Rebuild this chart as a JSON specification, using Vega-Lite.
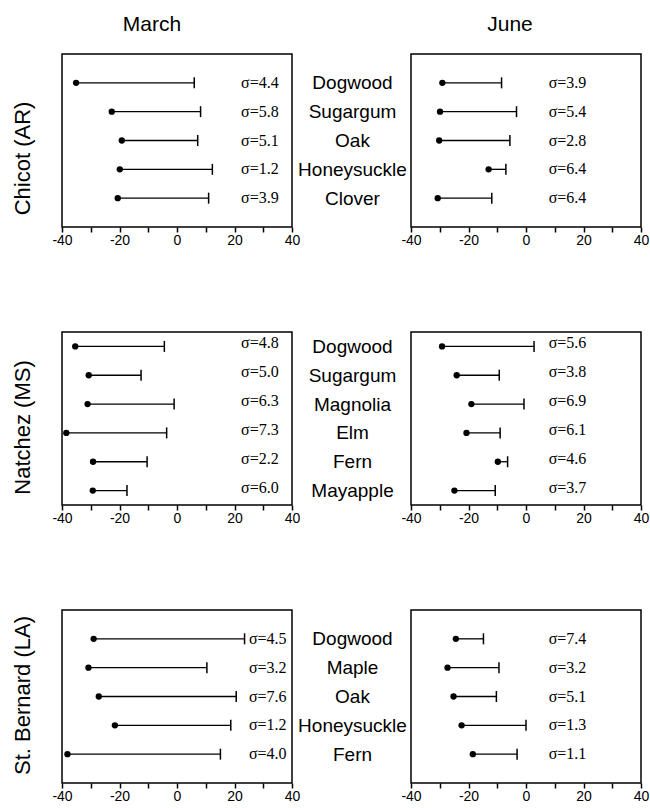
{
  "$schema": "https://vega.github.io/schema/vega-lite/v6.json",
  "background": "white",
  "padding": {"left": 10, "top": 13, "right": 5, "bottom": 2},
  "bounds": "flush",
  "columns": 2,
  "spacing": {"row": 105, "column": 119},
  "config": {
    "view": {"stroke": "black", "strokeWidth": 1.5},
    "font": "Liberation Sans",
    "title": {"font": "Liberation Sans", "fontSize": 21, "fontWeight": "normal", "color": "black"},
    "axisX": {"grid": false, "domain": false, "tickSize": 5, "tickWidth": 1.5, "tickColor": "black", "labelFont": "Liberation Sans", "labelFontSize": 14, "labelColor": "black", "labelPadding": 1, "labelFlush": false, "labelOverlap": false, "labelBound": false}
  },
  "datasets": {
    "d": [
      {"site": "Chicot (AR)", "month": "March", "species": "Dogwood", "mean": -35.1, "upper": 6.0, "sigma": "σ=4.4"},
      {"site": "Chicot (AR)", "month": "March", "species": "Sugargum", "mean": -22.7, "upper": 8.2, "sigma": "σ=5.8"},
      {"site": "Chicot (AR)", "month": "March", "species": "Oak", "mean": -19.2, "upper": 7.2, "sigma": "σ=5.1"},
      {"site": "Chicot (AR)", "month": "March", "species": "Honeysuckle", "mean": -19.9, "upper": 12.3, "sigma": "σ=1.2"},
      {"site": "Chicot (AR)", "month": "March", "species": "Clover", "mean": -20.6, "upper": 11.0, "sigma": "σ=3.9"},
      {"site": "Chicot (AR)", "month": "June", "species": "Dogwood", "mean": -29.1, "upper": -8.5, "sigma": "σ=3.9"},
      {"site": "Chicot (AR)", "month": "June", "species": "Sugargum", "mean": -29.9, "upper": -3.3, "sigma": "σ=5.4"},
      {"site": "Chicot (AR)", "month": "June", "species": "Oak", "mean": -30.2, "upper": -5.6, "sigma": "σ=2.8"},
      {"site": "Chicot (AR)", "month": "June", "species": "Honeysuckle", "mean": -13.0, "upper": -7.0, "sigma": "σ=6.4"},
      {"site": "Chicot (AR)", "month": "June", "species": "Clover", "mean": -30.7, "upper": -11.9, "sigma": "σ=6.4"},
      {"site": "Natchez (MS)", "month": "March", "species": "Dogwood", "mean": -35.4, "upper": -4.4, "sigma": "σ=4.8"},
      {"site": "Natchez (MS)", "month": "March", "species": "Sugargum", "mean": -30.7, "upper": -12.5, "sigma": "σ=5.0"},
      {"site": "Natchez (MS)", "month": "March", "species": "Magnolia", "mean": -31.1, "upper": -1.0, "sigma": "σ=6.3"},
      {"site": "Natchez (MS)", "month": "March", "species": "Elm", "mean": -38.5, "upper": -3.6, "sigma": "σ=7.3"},
      {"site": "Natchez (MS)", "month": "March", "species": "Fern", "mean": -29.2, "upper": -10.4, "sigma": "σ=2.2"},
      {"site": "Natchez (MS)", "month": "March", "species": "Mayapple", "mean": -29.3, "upper": -17.4, "sigma": "σ=6.0"},
      {"site": "Natchez (MS)", "month": "June", "species": "Dogwood", "mean": -29.2, "upper": 2.8, "sigma": "σ=5.6"},
      {"site": "Natchez (MS)", "month": "June", "species": "Sugargum", "mean": -24.1, "upper": -9.3, "sigma": "σ=3.8"},
      {"site": "Natchez (MS)", "month": "June", "species": "Magnolia", "mean": -19.0, "upper": -0.7, "sigma": "σ=6.9"},
      {"site": "Natchez (MS)", "month": "June", "species": "Elm", "mean": -20.7, "upper": -9.0, "sigma": "σ=6.1"},
      {"site": "Natchez (MS)", "month": "June", "species": "Fern", "mean": -9.8, "upper": -6.4, "sigma": "σ=4.6"},
      {"site": "Natchez (MS)", "month": "June", "species": "Mayapple", "mean": -24.9, "upper": -10.7, "sigma": "σ=3.7"},
      {"site": "St. Bernard (LA)", "month": "March", "species": "Dogwood", "mean": -29.0, "upper": 23.5, "sigma": "σ=4.5"},
      {"site": "St. Bernard (LA)", "month": "March", "species": "Maple", "mean": -30.8, "upper": 10.4, "sigma": "σ=3.2"},
      {"site": "St. Bernard (LA)", "month": "March", "species": "Oak", "mean": -27.2, "upper": 20.6, "sigma": "σ=7.6"},
      {"site": "St. Bernard (LA)", "month": "March", "species": "Honeysuckle", "mean": -21.6, "upper": 18.7, "sigma": "σ=1.2"},
      {"site": "St. Bernard (LA)", "month": "March", "species": "Fern", "mean": -38.1, "upper": 15.1, "sigma": "σ=4.0"},
      {"site": "St. Bernard (LA)", "month": "June", "species": "Dogwood", "mean": -24.4, "upper": -14.8, "sigma": "σ=7.4"},
      {"site": "St. Bernard (LA)", "month": "June", "species": "Maple", "mean": -27.3, "upper": -9.4, "sigma": "σ=3.2"},
      {"site": "St. Bernard (LA)", "month": "June", "species": "Oak", "mean": -25.2, "upper": -10.3, "sigma": "σ=5.1"},
      {"site": "St. Bernard (LA)", "month": "June", "species": "Honeysuckle", "mean": -22.4, "upper": 0.0, "sigma": "σ=1.3"},
      {"site": "St. Bernard (LA)", "month": "June", "species": "Fern", "mean": -18.5, "upper": -3.1, "sigma": "σ=1.1"}
    ]
  },
  "concat": [
    {
      "width": 230, "height": 173,
      "title": {"text": "March", "dx": -25, "offset": 2, "baseline": "alphabetic", "anchor": "middle"},
      "data": {"name": "d"},
      "transform": [{"filter": "datum.site === 'Chicot (AR)' && datum.month === 'March'"}],
      "encoding": {"y": {"field": "species", "type": "nominal", "sort": null, "scale": {"type": "point", "padding": 1},
        "axis": {"title": "Chicot (AR)", "labels": false, "ticks": false, "domain": false, "titleFont": "Liberation Sans", "titleFontSize": 22, "titleFontWeight": "normal", "titleColor": "black", "titlePadding": 28, "titleY": 104}}},
      "layer": [
        {"mark": {"type": "rule", "color": "black", "strokeWidth": 1.3},
         "encoding": {"x": {"field": "mean", "type": "quantitative", "scale": {"domain": [-40, 40], "nice": false, "zero": false},
           "axis": {"title": null, "values": [-40, -30, -20, -10, 0, 10, 20, 30, 40], "labelExpr": "datum.value % 20 === 0 ? '' + datum.value : ''"}},
           "x2": {"field": "upper"}}},
        {"mark": {"type": "tick", "color": "black", "thickness": 1.5, "size": 11, "opacity": 1}, "encoding": {"x": {"field": "upper", "type": "quantitative", "axis": {"title": null, "values": [-40, -30, -20, -10, 0, 10, 20, 30, 40], "labelExpr": "datum.value % 20 === 0 ? '' + datum.value : ''"}}}},
        {"mark": {"type": "circle", "color": "black", "opacity": 1, "size": 40}, "encoding": {"x": {"field": "mean", "type": "quantitative", "axis": {"title": null, "values": [-40, -30, -20, -10, 0, 10, 20, 30, 40], "labelExpr": "datum.value % 20 === 0 ? '' + datum.value : ''"}}}},
        {"mark": {"type": "text", "font": "Liberation Serif", "fontSize": 16, "align": "left", "baseline": "middle", "color": "black"},
         "encoding": {"x": {"datum": 22.3, "type": "quantitative", "axis": {"title": null, "values": [-40, -30, -20, -10, 0, 10, 20, 30, 40], "labelExpr": "datum.value % 20 === 0 ? '' + datum.value : ''"}}, "text": {"field": "sigma"}}}
      ]
    },
    {
      "width": 230, "height": 173,
      "title": {"text": "June", "dx": -16, "offset": 2, "baseline": "alphabetic", "anchor": "middle"},
      "data": {"name": "d"},
      "transform": [{"filter": "datum.site === 'Chicot (AR)' && datum.month === 'June'"}],
      "encoding": {"y": {"field": "species", "type": "nominal", "sort": null, "scale": {"type": "point", "padding": 1},
        "axis": {"title": null, "ticks": false, "tickSize": 0, "domain": false, "labelAlign": "center", "labelPadding": 59, "labelFont": "Liberation Sans", "labelFontSize": 19, "labelColor": "black", "labelOverlap": false, "labelBound": false, "labelLimit": 300}}},
      "layer": [
        {"mark": {"type": "rule", "color": "black", "strokeWidth": 1.3},
         "encoding": {"x": {"field": "mean", "type": "quantitative", "scale": {"domain": [-40, 40], "nice": false, "zero": false},
           "axis": {"title": null, "values": [-40, -30, -20, -10, 0, 10, 20, 30, 40], "labelExpr": "datum.value % 20 === 0 ? '' + datum.value : ''"}},
           "x2": {"field": "upper"}}},
        {"mark": {"type": "tick", "color": "black", "thickness": 1.5, "size": 11, "opacity": 1}, "encoding": {"x": {"field": "upper", "type": "quantitative", "axis": {"title": null, "values": [-40, -30, -20, -10, 0, 10, 20, 30, 40], "labelExpr": "datum.value % 20 === 0 ? '' + datum.value : ''"}}}},
        {"mark": {"type": "circle", "color": "black", "opacity": 1, "size": 40}, "encoding": {"x": {"field": "mean", "type": "quantitative", "axis": {"title": null, "values": [-40, -30, -20, -10, 0, 10, 20, 30, 40], "labelExpr": "datum.value % 20 === 0 ? '' + datum.value : ''"}}}},
        {"mark": {"type": "text", "font": "Liberation Serif", "fontSize": 16, "align": "left", "baseline": "middle", "color": "black"},
         "encoding": {"x": {"datum": 7.9, "type": "quantitative", "axis": {"title": null, "values": [-40, -30, -20, -10, 0, 10, 20, 30, 40], "labelExpr": "datum.value % 20 === 0 ? '' + datum.value : ''"}}, "text": {"field": "sigma"}}}
      ]
    },
    {
      "width": 230, "height": 173,
      "data": {"name": "d"},
      "transform": [{"filter": "datum.site === 'Natchez (MS)' && datum.month === 'March'"}],
      "encoding": {"y": {"field": "species", "type": "nominal", "sort": null, "scale": {"type": "point", "padding": 0.5},
        "axis": {"title": "Natchez (MS)", "labels": false, "ticks": false, "domain": false, "titleFont": "Liberation Sans", "titleFontSize": 22, "titleFontWeight": "normal", "titleColor": "black", "titlePadding": 28, "titleY": 95}}},
      "layer": [
        {"mark": {"type": "rule", "color": "black", "strokeWidth": 1.3},
         "encoding": {"x": {"field": "mean", "type": "quantitative", "scale": {"domain": [-40, 40], "nice": false, "zero": false},
           "axis": {"title": null, "values": [-40, -30, -20, -10, 0, 10, 20, 30, 40], "labelExpr": "datum.value % 20 === 0 ? '' + datum.value : ''"}},
           "x2": {"field": "upper"}}},
        {"mark": {"type": "tick", "color": "black", "thickness": 1.5, "size": 11, "opacity": 1}, "encoding": {"x": {"field": "upper", "type": "quantitative", "axis": {"title": null, "values": [-40, -30, -20, -10, 0, 10, 20, 30, 40], "labelExpr": "datum.value % 20 === 0 ? '' + datum.value : ''"}}}},
        {"mark": {"type": "circle", "color": "black", "opacity": 1, "size": 40}, "encoding": {"x": {"field": "mean", "type": "quantitative", "axis": {"title": null, "values": [-40, -30, -20, -10, 0, 10, 20, 30, 40], "labelExpr": "datum.value % 20 === 0 ? '' + datum.value : ''"}}}},
        {"mark": {"type": "text", "font": "Liberation Serif", "fontSize": 16, "align": "left", "baseline": "middle", "dy": -3, "color": "black"},
         "encoding": {"x": {"datum": 22.3, "type": "quantitative", "axis": {"title": null, "values": [-40, -30, -20, -10, 0, 10, 20, 30, 40], "labelExpr": "datum.value % 20 === 0 ? '' + datum.value : ''"}}, "text": {"field": "sigma"}}}
      ]
    },
    {
      "width": 230, "height": 173,
      "data": {"name": "d"},
      "transform": [{"filter": "datum.site === 'Natchez (MS)' && datum.month === 'June'"}],
      "encoding": {"y": {"field": "species", "type": "nominal", "sort": null, "scale": {"type": "point", "padding": 0.5},
        "axis": {"title": null, "ticks": false, "tickSize": 0, "domain": false, "labelAlign": "center", "labelPadding": 59, "labelFont": "Liberation Sans", "labelFontSize": 19, "labelColor": "black", "labelOverlap": false, "labelBound": false, "labelLimit": 300}}},
      "layer": [
        {"mark": {"type": "rule", "color": "black", "strokeWidth": 1.3},
         "encoding": {"x": {"field": "mean", "type": "quantitative", "scale": {"domain": [-40, 40], "nice": false, "zero": false},
           "axis": {"title": null, "values": [-40, -30, -20, -10, 0, 10, 20, 30, 40], "labelExpr": "datum.value % 20 === 0 ? '' + datum.value : ''"}},
           "x2": {"field": "upper"}}},
        {"mark": {"type": "tick", "color": "black", "thickness": 1.5, "size": 11, "opacity": 1}, "encoding": {"x": {"field": "upper", "type": "quantitative", "axis": {"title": null, "values": [-40, -30, -20, -10, 0, 10, 20, 30, 40], "labelExpr": "datum.value % 20 === 0 ? '' + datum.value : ''"}}}},
        {"mark": {"type": "circle", "color": "black", "opacity": 1, "size": 40}, "encoding": {"x": {"field": "mean", "type": "quantitative", "axis": {"title": null, "values": [-40, -30, -20, -10, 0, 10, 20, 30, 40], "labelExpr": "datum.value % 20 === 0 ? '' + datum.value : ''"}}}},
        {"mark": {"type": "text", "font": "Liberation Serif", "fontSize": 16, "align": "left", "baseline": "middle", "dy": -3, "color": "black"},
         "encoding": {"x": {"datum": 7.9, "type": "quantitative", "axis": {"title": null, "values": [-40, -30, -20, -10, 0, 10, 20, 30, 40], "labelExpr": "datum.value % 20 === 0 ? '' + datum.value : ''"}}, "text": {"field": "sigma"}}}
      ]
    },
    {
      "width": 230, "height": 173,
      "data": {"name": "d"},
      "transform": [{"filter": "datum.site === 'St. Bernard (LA)' && datum.month === 'March'"}],
      "encoding": {"y": {"field": "species", "type": "nominal", "sort": null, "scale": {"type": "point", "padding": 1},
        "axis": {"title": "St. Bernard (LA)", "labels": false, "ticks": false, "domain": false, "titleFont": "Liberation Sans", "titleFontSize": 22, "titleFontWeight": "normal", "titleColor": "black", "titlePadding": 28, "titleY": 85}}},
      "layer": [
        {"mark": {"type": "rule", "color": "black", "strokeWidth": 1.3},
         "encoding": {"x": {"field": "mean", "type": "quantitative", "scale": {"domain": [-40, 40], "nice": false, "zero": false},
           "axis": {"title": null, "values": [-40, -30, -20, -10, 0, 10, 20, 30, 40], "labelExpr": "datum.value % 20 === 0 ? '' + datum.value : ''"}},
           "x2": {"field": "upper"}}},
        {"mark": {"type": "tick", "color": "black", "thickness": 1.5, "size": 11, "opacity": 1}, "encoding": {"x": {"field": "upper", "type": "quantitative", "axis": {"title": null, "values": [-40, -30, -20, -10, 0, 10, 20, 30, 40], "labelExpr": "datum.value % 20 === 0 ? '' + datum.value : ''"}}}},
        {"mark": {"type": "circle", "color": "black", "opacity": 1, "size": 40}, "encoding": {"x": {"field": "mean", "type": "quantitative", "axis": {"title": null, "values": [-40, -30, -20, -10, 0, 10, 20, 30, 40], "labelExpr": "datum.value % 20 === 0 ? '' + datum.value : ''"}}}},
        {"mark": {"type": "text", "font": "Liberation Serif", "fontSize": 16, "align": "left", "baseline": "middle", "color": "black"},
         "encoding": {"x": {"datum": 25.0, "type": "quantitative", "axis": {"title": null, "values": [-40, -30, -20, -10, 0, 10, 20, 30, 40], "labelExpr": "datum.value % 20 === 0 ? '' + datum.value : ''"}}, "text": {"field": "sigma"}}}
      ]
    },
    {
      "width": 230, "height": 173,
      "data": {"name": "d"},
      "transform": [{"filter": "datum.site === 'St. Bernard (LA)' && datum.month === 'June'"}],
      "encoding": {"y": {"field": "species", "type": "nominal", "sort": null, "scale": {"type": "point", "padding": 1},
        "axis": {"title": null, "ticks": false, "tickSize": 0, "domain": false, "labelAlign": "center", "labelPadding": 59, "labelFont": "Liberation Sans", "labelFontSize": 19, "labelColor": "black", "labelOverlap": false, "labelBound": false, "labelLimit": 300}}},
      "layer": [
        {"mark": {"type": "rule", "color": "black", "strokeWidth": 1.3},
         "encoding": {"x": {"field": "mean", "type": "quantitative", "scale": {"domain": [-40, 40], "nice": false, "zero": false},
           "axis": {"title": null, "values": [-40, -30, -20, -10, 0, 10, 20, 30, 40], "labelExpr": "datum.value % 20 === 0 ? '' + datum.value : ''"}},
           "x2": {"field": "upper"}}},
        {"mark": {"type": "tick", "color": "black", "thickness": 1.5, "size": 11, "opacity": 1}, "encoding": {"x": {"field": "upper", "type": "quantitative", "axis": {"title": null, "values": [-40, -30, -20, -10, 0, 10, 20, 30, 40], "labelExpr": "datum.value % 20 === 0 ? '' + datum.value : ''"}}}},
        {"mark": {"type": "circle", "color": "black", "opacity": 1, "size": 40}, "encoding": {"x": {"field": "mean", "type": "quantitative", "axis": {"title": null, "values": [-40, -30, -20, -10, 0, 10, 20, 30, 40], "labelExpr": "datum.value % 20 === 0 ? '' + datum.value : ''"}}}},
        {"mark": {"type": "text", "font": "Liberation Serif", "fontSize": 16, "align": "left", "baseline": "middle", "color": "black"},
         "encoding": {"x": {"datum": 7.9, "type": "quantitative", "axis": {"title": null, "values": [-40, -30, -20, -10, 0, 10, 20, 30, 40], "labelExpr": "datum.value % 20 === 0 ? '' + datum.value : ''"}}, "text": {"field": "sigma"}}}
      ]
    }
  ]
}
